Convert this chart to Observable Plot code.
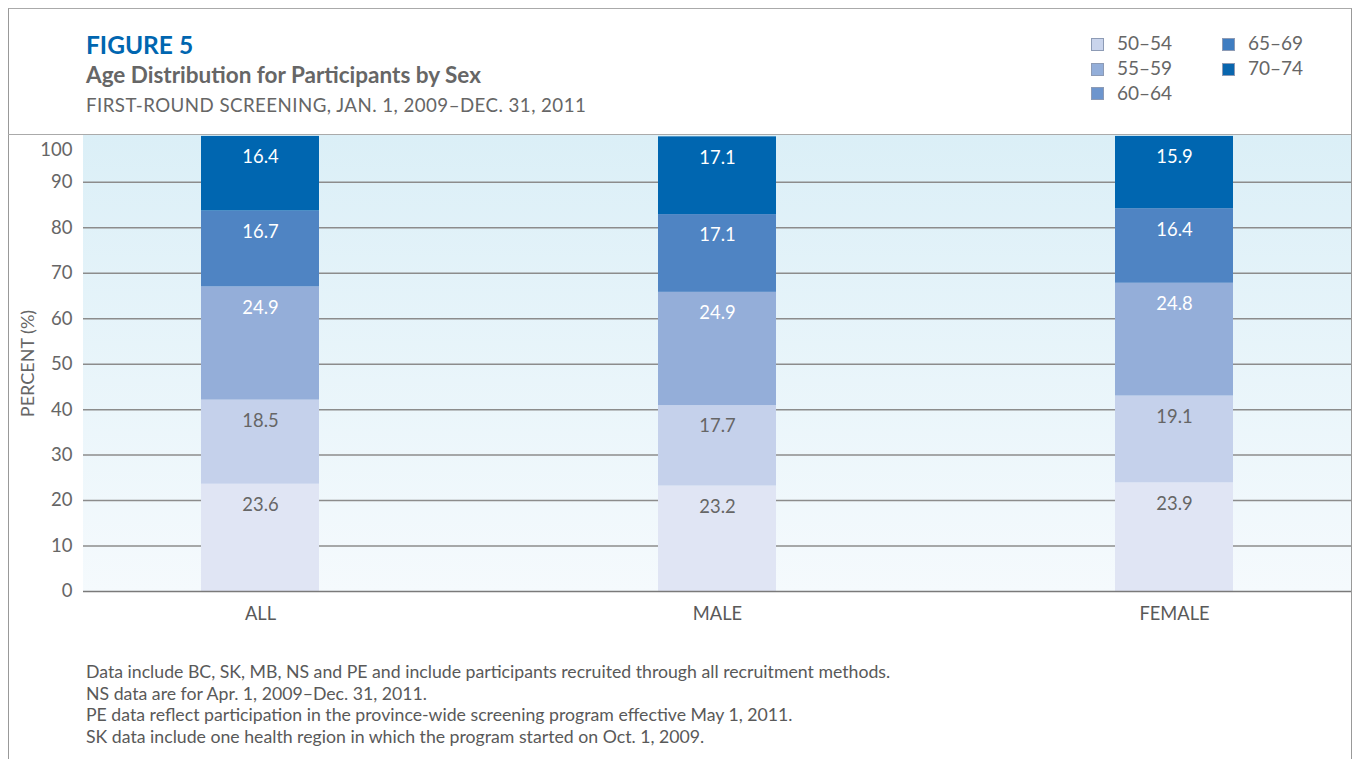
<!DOCTYPE html>
<html>
<head>
<meta charset="utf-8">
<script src="https://cdn.jsdelivr.net/npm/d3@7"></script>
<script src="https://cdn.jsdelivr.net/npm/@observablehq/plot@0.6"></script>
<style>
  html, body { margin: 0; padding: 0; background: #fff; }
  #page { position: relative; width: 1353px; height: 759px; overflow: hidden; font-family: Lato, "Open Sans", sans-serif; color: #666; }
  #frame { position: absolute; left: 8px; top: 8px; width: 1344px; height: 760px; border-left: 1.5px solid #999; border-top: 1.5px solid #aaa; border-right: 1.5px solid #999; box-sizing: border-box; }
  #sep { position: absolute; left: 8px; top: 134px; width: 1343px; height: 0; border-top: 1.5px solid #aaa; }
  #bg { position: absolute; left: 83px; top: 135px; width: 1268px; height: 456px; background: linear-gradient(to bottom, #dbeff7 0%, #f5fafd 100%); }
  #chart { position: absolute; left: 0; top: 0; }
  .t { position: absolute; white-space: nowrap; line-height: 1; }
  #fig { left: 86px; top: 33px; font-size: 24.5px; font-weight: 700; color: #0066b0; }
  #title { left: 86px; top: 64px; font-size: 22.5px; font-weight: 700; color: #666; }
  #sub { left: 86px; top: 96px; font-size: 18.7px; color: #666; letter-spacing: 0.45px; }
  #legend { position: absolute; left: 1091px; top: 33px; width: 240px; }
  .li { position: absolute; white-space: nowrap; font-size: 19px; color: #666; line-height: 1; }
  .sw { display: inline-block; width: 11px; height: 11px; border: 1px solid #8d9bb5; vertical-align: middle; margin-right: 13px; position: relative; top: -1px; }
  #notes { position: absolute; left: 86px; top: 661px; font-size: 17.7px; line-height: 21.7px; color: #595959; }
</style>
</head>
<body>
<div id="page">
  <div id="bg"></div>
  <div id="chart"></div>
  <div id="frame"></div>
  <div id="sep"></div>
  <div class="t" id="fig">FIGURE 5</div>
  <div class="t" id="title">Age Distribution for Participants by Sex</div>
  <div class="t" id="sub">FIRST-ROUND SCREENING, JAN. 1, 2009–DEC. 31, 2011</div>
  <div id="legend"></div>
  <div id="notes"></div>
</div>
<script>
const groups = ["ALL", "MALE", "FEMALE"];
const ageGroups = ["50–54", "55–59", "60–64", "65–69", "70–74"];
const values50_54 = [23.6, 23.2, 23.9];
const values55_59 = [18.5, 17.7, 19.1];
const values60_64 = [24.9, 24.9, 24.8];
const values65_69 = [16.7, 17.1, 16.4];
const values70_74 = [16.4, 17.1, 15.9];
const barColors = ["#e0e5f4", "#c5d1eb", "#94aed9", "#4f84c3", "#0066b0"];
const legendColors = ["#c9d4ec", "#93aed9", "#6d95cd", "#3f7dc1", "#0966ae"];
const labelColors = ["#666666", "#666666", "#ffffff", "#ffffff", "#ffffff"];
const yTicks = [0, 10, 20, 30, 40, 50, 60, 70, 80, 90];
const gridValues = [10, 20, 30, 40, 50, 60, 70, 80, 90];
const notes = [
  "Data include BC, SK, MB, NS and PE and include participants recruited through all recruitment methods.",
  "NS data are for Apr. 1, 2009–Dec. 31, 2011.",
  "PE data reflect participation in the province-wide screening program effective May 1, 2011.",
  "SK data include one health region in which the program started on Oct. 1, 2009."
];

const series = [values50_54, values55_59, values60_64, values65_69, values70_74];
const data = [];
groups.forEach((g, gi) => {
  ageGroups.forEach((a, ai) => {
    data.push({group: g, age: a, value: series[ai][gi], labelColor: labelColors[ai]});
  });
});

const chart = Plot.plot({
  width: 1353,
  height: 759,
  marginLeft: 83,
  marginRight: 2,
  marginTop: 135,
  marginBottom: 168,
  style: {fontFamily: "Lato, 'Open Sans', sans-serif", fontSize: "16px", color: "#666", background: "transparent", overflow: "visible"},
  x: {domain: groups, paddingInner: 0.742, paddingOuter: 0.258, label: null},
  y: {domain: [0, 100.3], label: null},
  color: {domain: ageGroups, range: barColors},
  marks: [
    Plot.ruleY(gridValues, {stroke: "#8c8c8c", strokeWidth: 1.5}),
    Plot.barY(data, {x: "group", y: "value", fill: "age"}),
    Plot.ruleY([0], {stroke: "#7a7a7a", strokeWidth: 1.5}),
    Plot.text(data, Plot.stackY2({x: "group", y: "value", text: d => d.value.toFixed(1), fill: "labelColor", dy: 21, fontSize: 18.4})),
    Plot.axisY(yTicks, {tickSize: 0, tickPadding: 11, fontSize: 18.5, fill: "#666", label: null}),
    Plot.text([100], {y: d => d, frameAnchor: "left", dx: -11, dy: 13, textAnchor: "end", fontSize: 18.5, fill: "#666"}),
    Plot.axisX({tickSize: 0, tickPadding: 15, fontSize: 18.3, fill: "#595959", label: null}),
    Plot.text(["PERCENT (%)"], {frameAnchor: "left", dx: -55, rotate: -90, textAnchor: "middle", fontSize: 18, fill: "#666"})
  ]
});
document.getElementById("chart").appendChild(chart);

const legend = document.getElementById("legend");
const pos = [[0,0],[0,1],[0,2],[1,0],[1,1]];
ageGroups.forEach((a, i) => {
  const el = document.createElement("div");
  el.className = "li";
  el.style.left = (pos[i][0] * 131) + "px";
  el.style.top = (pos[i][1] * 24.9) + "px";
  el.innerHTML = `<span class="sw" style="background:${legendColors[i]}"></span>${a}`;
  legend.appendChild(el);
});
document.getElementById("notes").innerHTML = notes.map(n => `<div>${n}</div>`).join("");
</script>
</body>
</html>
